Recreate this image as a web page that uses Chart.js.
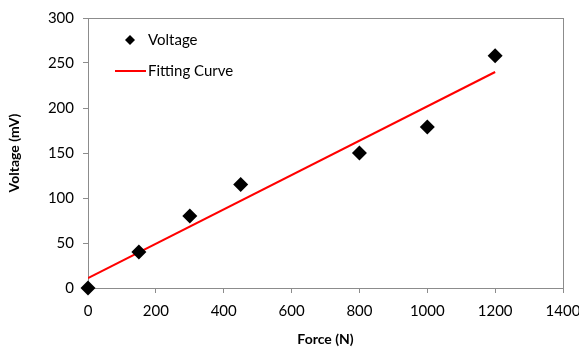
<!DOCTYPE html>
<html>
<head>
<meta charset="utf-8">
<script src="https://cdn.jsdelivr.net/npm/chart.js@4/dist/chart.umd.min.js"></script>
<style>
  html, body { margin: 0; padding: 0; background: #fff; }
  #wrap { width: 579px; height: 351px; }
</style>
</head>
<body>
<div id="wrap"><canvas id="chart" width="579" height="351"></canvas></div>
<script>
var ctx = document.getElementById('chart').getContext('2d');

// measured points
const forceN = [0, 150, 300, 450, 800, 1000, 1200];
const voltageMV = [0, 40, 80, 115, 150, 179, 258];

// fitting line end points
const fitForce = [0, 1200];
const fitVoltage = [11, 240];

const xTicks = [0, 200, 400, 600, 800, 1000, 1200, 1400];
const yTicks = [0, 50, 100, 150, 200, 250, 300];

const FONT = 'Lato, "Liberation Sans", sans-serif';
const AXIS_GRAY = '#8c8c8c';

// box around plot area + legend inside it
const frame = {
  id: 'frame',
  beforeDatasetsDraw(chart) {
    const a = chart.chartArea;
    const c = chart.ctx;
    c.save();
    c.strokeStyle = AXIS_GRAY;
    c.lineWidth = 1;
    c.strokeRect(Math.round(a.left) + 0.5, Math.round(a.top) + 0.5,
      Math.round(a.right - a.left), Math.round(a.bottom - a.top));
    c.restore();
  },
  afterDraw(chart) {
    const a = chart.chartArea;
    const c = chart.ctx;
    const ds = chart.data.datasets;
    c.save();
    c.font = '15px ' + FONT;
    c.textBaseline = 'middle';
    c.fillStyle = '#000';
    const lx = a.left + 42, y1 = a.top + 22, y2 = a.top + 53;
    c.beginPath();
    c.moveTo(lx, y1 - 5); c.lineTo(lx + 5, y1); c.lineTo(lx, y1 + 5); c.lineTo(lx - 5, y1);
    c.closePath(); c.fill();
    c.fillText(ds[0].label, a.left + 60, y1);
    c.strokeStyle = '#ff0000';
    c.lineWidth = 2;
    c.beginPath();
    c.moveTo(a.left + 27, y2); c.lineTo(a.left + 58, y2);
    c.stroke();
    c.fillText(ds[1].label, a.left + 60, y2);
    c.restore();
  }
};

const data = {
  datasets: [
    {
      type: 'scatter',
      label: 'Voltage',
      data: forceN.map((f, i) => ({ x: f, y: voltageMV[i] })),
      pointStyle: 'rectRot',
      pointRadius: 7.5,
      backgroundColor: '#000',
      borderColor: '#000',
      borderWidth: 0,
      clip: false
    },
    {
      type: 'line',
      label: 'Fitting Curve',
      data: fitForce.map((f, i) => ({ x: f, y: fitVoltage[i] })),
      borderColor: '#ff0000',
      borderWidth: 2,
      pointRadius: 0,
      fill: false
    }
  ]
};

const config = {
  data: data,
  options: {
    responsive: false,
    animation: false,
    layout: { padding: { top: 15, right: 16, left: 0, bottom: 0 } },
    plugins: {
      legend: { display: false },
      title: { display: false },
      tooltip: { enabled: false }
    },
    scales: {
      x: {
        type: 'linear',
        min: 0,
        max: 1400,
        afterBuildTicks: s => { s.ticks = xTicks.map(v => ({ value: v })); },
        afterFit: s => { s.paddingRight = 0; s.paddingLeft = 0; s.height = 63; },
        grid: { drawOnChartArea: false, drawTicks: true, tickLength: 5, color: AXIS_GRAY },
        border: { display: true, color: AXIS_GRAY },
        ticks: { color: '#000', padding: 9, font: { family: FONT, size: 15 }, callback: v => String(v) },
        title: {
          display: true,
          text: 'Force (N)',
          color: '#000',
          font: { family: FONT, size: 14, weight: 'bold' },
          padding: { top: 2, bottom: 3 }
        }
      },
      y: {
        type: 'linear',
        min: 0,
        max: 300,
        afterBuildTicks: s => { s.ticks = yTicks.map(v => ({ value: v })); },
        afterFit: s => { s.width = 88; },
        grid: { drawOnChartArea: false, drawTicks: true, tickLength: 5, color: AXIS_GRAY },
        border: { display: true, color: AXIS_GRAY },
        ticks: { color: '#000', padding: 9, font: { family: FONT, size: 15 }, callback: v => String(v) },
        title: {
          display: true,
          text: 'Voltage (mV)',
          color: '#000',
          font: { family: FONT, size: 14, weight: 'bold' },
          padding: { top: 6, bottom: 4 }
        }
      }
    }
  },
  plugins: [frame]
};

var chart = new Chart(ctx, config);
</script>
</body>
</html>
